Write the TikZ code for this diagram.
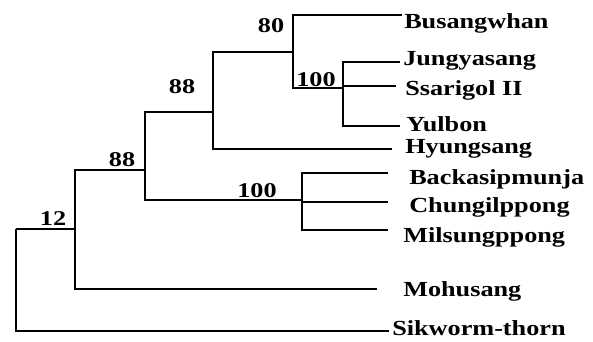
\documentclass[tikz,border=0pt]{standalone}
\usepackage{fontspec}
\setmainfont{Liberation Serif}
\begin{document}
\begin{tikzpicture}[x=1pt, y=-1pt,
    branch/.style={line width=2.8pt},
    taxon/.style={anchor=base west, font=\fontsize{21.5}{23}\selectfont\bfseries, xscale=1.22, inner sep=0pt},
    boot/.style={font=\fontsize{21}{23}\selectfont\bfseries, xscale=1.25, inner sep=0pt}]
    \useasboundingbox (0,0) rectangle (593,341);

    % internal nodes
    \coordinate (root)  at (16,229);
    \coordinate (n12)   at (75,229);
    \coordinate (n88b)  at (145,170);
    \coordinate (n88a)  at (213,112);
    \coordinate (n80)   at (293,52);
    \coordinate (n100a) at (343,88);
    \coordinate (n100b) at (302,200);

    % tips
    \coordinate (tBus) at (402,15);
    \coordinate (tJun) at (400,62);
    \coordinate (tSsa) at (396,86);
    \coordinate (tYul) at (400,126);
    \coordinate (tHyu) at (392,149);
    \coordinate (tBac) at (388,173);
    \coordinate (tChu) at (388,202);
    \coordinate (tMil) at (388,230);
    \coordinate (tMoh) at (377,289);
    \coordinate (tSik) at (389,331);

    % branches
    \draw[branch] (root) |- (tSik);
    \draw[branch] (root) -- (n12);
    \draw[branch] (n12) |- (n88b);
    \draw[branch] (n12) |- (tMoh);
    \draw[branch] (n88b) |- (n88a);
    \draw[branch] (n88b) |- (n100b);
    \draw[branch] (n88a) |- (n80);
    \draw[branch] (n88a) |- (tHyu);
    \draw[branch] (n80) |- (tBus);
    \draw[branch] (n80) |- (n100a);
    \foreach \t in {tJun,tSsa,tYul} \draw[branch] (n100a) |- (\t);
    \foreach \t in {tBac,tChu,tMil} \draw[branch] (n100b) |- (\t);

    % taxa
    \node[taxon] (lBus) at (404,28)  {Busangwhan};
    \node[taxon] (lJun) at (403,65)  {Jungyasang};
    \node[taxon] (lSsa) at (405,95)  {Ssarigol II};
    \node[taxon] (lYul) at (406,131) {Yulbon};
    \node[taxon] (lHyu) at (405,153) {Hyungsang};
    \node[taxon] (lBac) at (409,184) {Backasipmunja};
    \node[taxon] (lChu) at (409,212) {Chungilppong};
    \node[taxon] (lMil) at (403,242) {Milsungppong};
    \node[taxon] (lMoh) at (403,296) {Mohusang};
    \node[taxon] (lSik) at (392,335) {Sikworm-thorn};

    % bootstrap values
    \node[boot] (b80)   at (271,26)  {80};
    \node[boot] (b100a) at (316,80)  {100};
    \node[boot] (b88a)  at (182,87)  {88};
    \node[boot] (b88b)  at (122,160) {88};
    \node[boot] (b100b) at (257,191) {100};
    \node[boot] (b12)   at (53,219)  {12};
\end{tikzpicture}
\end{document}
